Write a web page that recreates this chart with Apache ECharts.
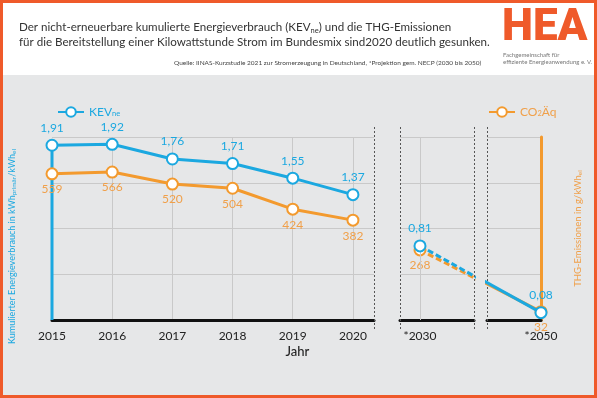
<!DOCTYPE html>
<html><head><meta charset="utf-8">
<script src="https://cdn.jsdelivr.net/npm/echarts@6/dist/echarts.min.js"></script>
<style>
html,body{margin:0;padding:0;}
#wrap{position:relative;width:597px;height:398px;background:linear-gradient(#ffffff 0,#ffffff 75px,#e6e7e8 75px);}
#chart{position:absolute;left:0;top:0;width:597px;height:398px;}
#frame{position:absolute;left:0;top:0;width:597px;height:398px;box-sizing:border-box;border:3px solid #ef5a2a;pointer-events:none;}
</style></head>
<body><div id="wrap"><div id="chart"></div><div id="frame"></div></div>
<script>
// ---- data ----
const years = [2015, 2016, 2017, 2018, 2019, 2020, 2030, 2050];
const yearLabels = ['2015', '2016', '2017', '2018', '2019', '2020', '*2030', '*2050'];
const kevValues = [1.91, 1.92, 1.76, 1.71, 1.55, 1.37, 0.81, 0.08];
const co2Values = [559, 566, 520, 504, 424, 382, 268, 32];
const kevTicks = [0, 0.5, 1, 1.5, 2];
const co2Ticks = [0, 175, 350, 525, 700];

// ---- styling ----
const BLUE = '#1ba8e0', ORANGE = '#f39a2e', ORANGE_TXT = '#f0a04a', GRID = '#c9c9c9';
const FONT = 'Lato';
const TOP = 137, H = 183;
const G = [
  {left: 52, width: 322, min: 2015, max: 2020.35},
  {left: 400, width: 74, min: 2026.6667, max: 2039},
  {left: 487, width: 54, min: 2041, max: 2050}
];
const hist = 6; // first six values are historic, rest projections

const pairs = (xs, ys, a, b) => xs.slice(a, b).map((x, i) => [x, ys.slice(a, b)[i]]);
const fmtKev = p => p.value[1].toFixed(2).replace('.', ',');
const fmtCo2 = p => String(p.value[1]);
const yearFmt = v => { const i = years.indexOf(Math.round(v * 1000) / 1000); return i >= 0 ? yearLabels[i] : ''; };

const grids = G.map(g => ({left: g.left, width: g.width, top: TOP, height: H}));

const xAxes = G.map((g, i) => ({
  type: 'value', gridIndex: i, min: g.min, max: g.max,
  interval: i === 0 ? 1 : undefined,
  axisLine: {show: true, onZero: false, lineStyle: {color: '#111', width: 3}},
  axisTick: {show: false, customValues: i === 0 ? undefined : [years[i === 1 ? 6 : 7]]},
  axisLabel: {
    show: true, color: '#222', fontSize: 12, fontFamily: FONT, margin: 10,
    showMaxLabel: i === 2, showMinLabel: i === 0 ? true : false,
    customValues: i === 0 ? undefined : [years[i === 1 ? 6 : 7]],
    formatter: yearFmt
  },
  splitLine: {show: i === 0, showMinLine: false, showMaxLine: false, lineStyle: {color: GRID, width: 1}}
}));

const yAxes = [];
G.forEach((g, i) => {
  yAxes.push({
    type: 'value', gridIndex: i, position: 'left', min: kevTicks[0], max: kevTicks[kevTicks.length - 1],
    interval: kevTicks[1] - kevTicks[0],
    axisLine: {show: false}, axisTick: {show: false}, axisLabel: {show: false},
    splitLine: {show: true, lineStyle: {color: GRID, width: 1}},
    name: i === 0 ? 'Kumulierter Energieverbrauch in kWh{s|primär}/kWh{s|el}' : '',
    nameLocation: 'middle', nameGap: 35, nameRotate: 90,
    nameTextStyle: {color: BLUE, fontSize: 9, fontFamily: FONT, padding: [0, 36, 0, 0],
      rich: {s: {fontSize: 6.5, color: BLUE, fontFamily: FONT, verticalAlign: 'bottom'}}}
  });
  yAxes.push({
    type: 'value', gridIndex: i, position: 'right', min: co2Ticks[0], max: co2Ticks[co2Ticks.length - 1],
    interval: co2Ticks[1] - co2Ticks[0],
    axisLine: {show: i === 2, lineStyle: {color: ORANGE, width: 3}}, axisTick: {show: false}, axisLabel: {show: false},
    splitLine: {show: false},
    name: i === 2 ? 'THG-Emissionen in g/kWh{s|el}' : '',
    nameLocation: 'middle', nameGap: 32, nameRotate: 90,
    nameTextStyle: {color: ORANGE_TXT, fontSize: 9.5, fontFamily: FONT,
      rich: {s: {fontSize: 6.5, color: ORANGE_TXT, fontFamily: FONT, verticalAlign: 'bottom'}}}
  });
});

function kevSeries(gi, data, dashed) {
  return {
    name: 'KEV', type: 'line', xAxisIndex: gi, yAxisIndex: gi * 2, data: data, z: 5,
    symbol: 'emptyCircle', symbolSize: 11, showAllSymbol: true, animation: false,
    lineStyle: {color: BLUE, width: 3, type: dashed ? [6, 3] : 'solid'},
    itemStyle: {color: BLUE, borderColor: BLUE, borderWidth: 3},
    label: {show: true, position: 'top', distance: 5, color: BLUE, fontSize: 12, fontFamily: FONT, formatter: fmtKev},
    markLine: gi === 1 ? {silent: true, symbol: 'none', label: {show: false}, animation: false,
      lineStyle: {color: GRID, width: 1, type: 'solid'}, data: [{xAxis: years[6]}]} : undefined
  };
}
function co2Series(gi, data, dashed) {
  return {
    name: 'CO2', type: 'line', xAxisIndex: gi, yAxisIndex: gi * 2 + 1, data: data, z: 4,
    symbol: 'emptyCircle', symbolSize: 11, showAllSymbol: true, animation: false,
    lineStyle: {color: ORANGE, width: 3, type: dashed ? [6, 3] : 'solid'},
    itemStyle: {color: ORANGE, borderColor: ORANGE, borderWidth: 3},
    label: {show: true, position: 'bottom', distance: 3, color: ORANGE_TXT, fontSize: 12, fontFamily: FONT, formatter: fmtCo2}
  };
}

const histKev = pairs(years, kevValues, 0, hist);
const histCo2 = pairs(years, co2Values, 0, hist);
const projKev = pairs(years, kevValues, hist, years.length);
const projCo2 = pairs(years, co2Values, hist, years.length);

const series = [
  co2Series(0, histCo2, false),
  kevSeries(0, histKev, false),
  {name: 'kevStem', type: 'line', xAxisIndex: 0, yAxisIndex: 0, symbol: 'none', silent: true, z: 3, animation: false,
   data: [[years[0], 0], [years[0], kevValues[0]]], lineStyle: {color: BLUE, width: 3}},
  co2Series(1, projCo2, true),
  kevSeries(1, projKev, true),
  co2Series(2, projCo2, false),
  kevSeries(2, projKev, false)
];

// dotted separators at panel borders
const sepXs = [G[0].left + G[0].width, G[1].left, G[1].left + G[1].width, G[2].left];
const graphics = sepXs.map(x => ({
  type: 'line', silent: true, z: 1,
  shape: {x1: x + 0.5, y1: TOP - 10, x2: x + 0.5, y2: TOP + H + 11},
  style: {stroke: '#555', lineWidth: 1, lineDash: [2, 2]}
}));
graphics.push(
  {type: 'text', left: (G[0].left + G[2].left + G[2].width) / 2 - 11, top: 345,
   style: {text: 'Jahr', fill: '#222', font: '500 13px ' + FONT}},
  {type: 'text', left: 174, top: 59,
   style: {text: 'Quelle: IINAS-Kurzstudie 2021 zur Stromerzeugung in Deutschland, *Projektion gem. NECP (2030 bis 2050)', fill: '#444', font: '6.5px ' + FONT}},
  {type: 'text', left: 502, top: 7,
   style: {text: 'HEA', fill: '#ef5a2a', font: '900 44px Roboto'}},
  {type: 'text', left: 503, top: 52,
   style: {text: 'Fachgemeinschaft für', fill: '#777', font: '6px ' + FONT}},
  {type: 'text', left: 503, top: 59,
   style: {text: 'effiziente Energieanwendung e. V.', fill: '#777', font: '6px ' + FONT}}
);

const chart = echarts.init(document.getElementById('chart'), null, {renderer: 'canvas'});
chart.setOption({
  animation: false,
  textStyle: {fontFamily: FONT},
  title: {
    left: 14, top: 15,
    text: 'Der nicht-erneuerbare kumulierte Energieverbrauch (KEV{s|ne}) und die THG-Emissionen\nfür die Bereitstellung einer Kilowattstunde Strom im Bundesmix sind2020 deutlich gesunken.',
    textStyle: {fontSize: 11.6, fontWeight: 'normal', color: '#333', fontFamily: FONT, lineHeight: 15,
      rich: {s: {fontSize: 7.5, color: '#333', fontFamily: FONT, verticalAlign: 'bottom', lineHeight: 15}}}
  },
  legend: [
    {data: ['KEV'], left: 52, top: 101, itemWidth: 26, itemHeight: 12, itemGap: 4,
     formatter: () => '{a|KEV}{s|ne}',
     textStyle: {color: BLUE, fontFamily: FONT, rich: {a: {fontSize: 12, color: BLUE, fontFamily: FONT}, s: {fontSize: 7.5, color: BLUE, fontFamily: FONT, verticalAlign: 'bottom'}}}},
    {data: ['CO2'], left: 483, top: 101, itemWidth: 26, itemHeight: 12, itemGap: 4,
     formatter: () => '{a|CO}{s|2}{a|Äq}',
     textStyle: {color: ORANGE_TXT, fontFamily: FONT, rich: {a: {fontSize: 12, color: ORANGE_TXT, fontFamily: FONT}, s: {fontSize: 7.5, color: ORANGE_TXT, fontFamily: FONT, verticalAlign: 'bottom'}}}}
  ],
  grid: grids,
  xAxis: xAxes,
  yAxis: yAxes,
  series: series,
  graphic: graphics
});
</script>
</body></html>
